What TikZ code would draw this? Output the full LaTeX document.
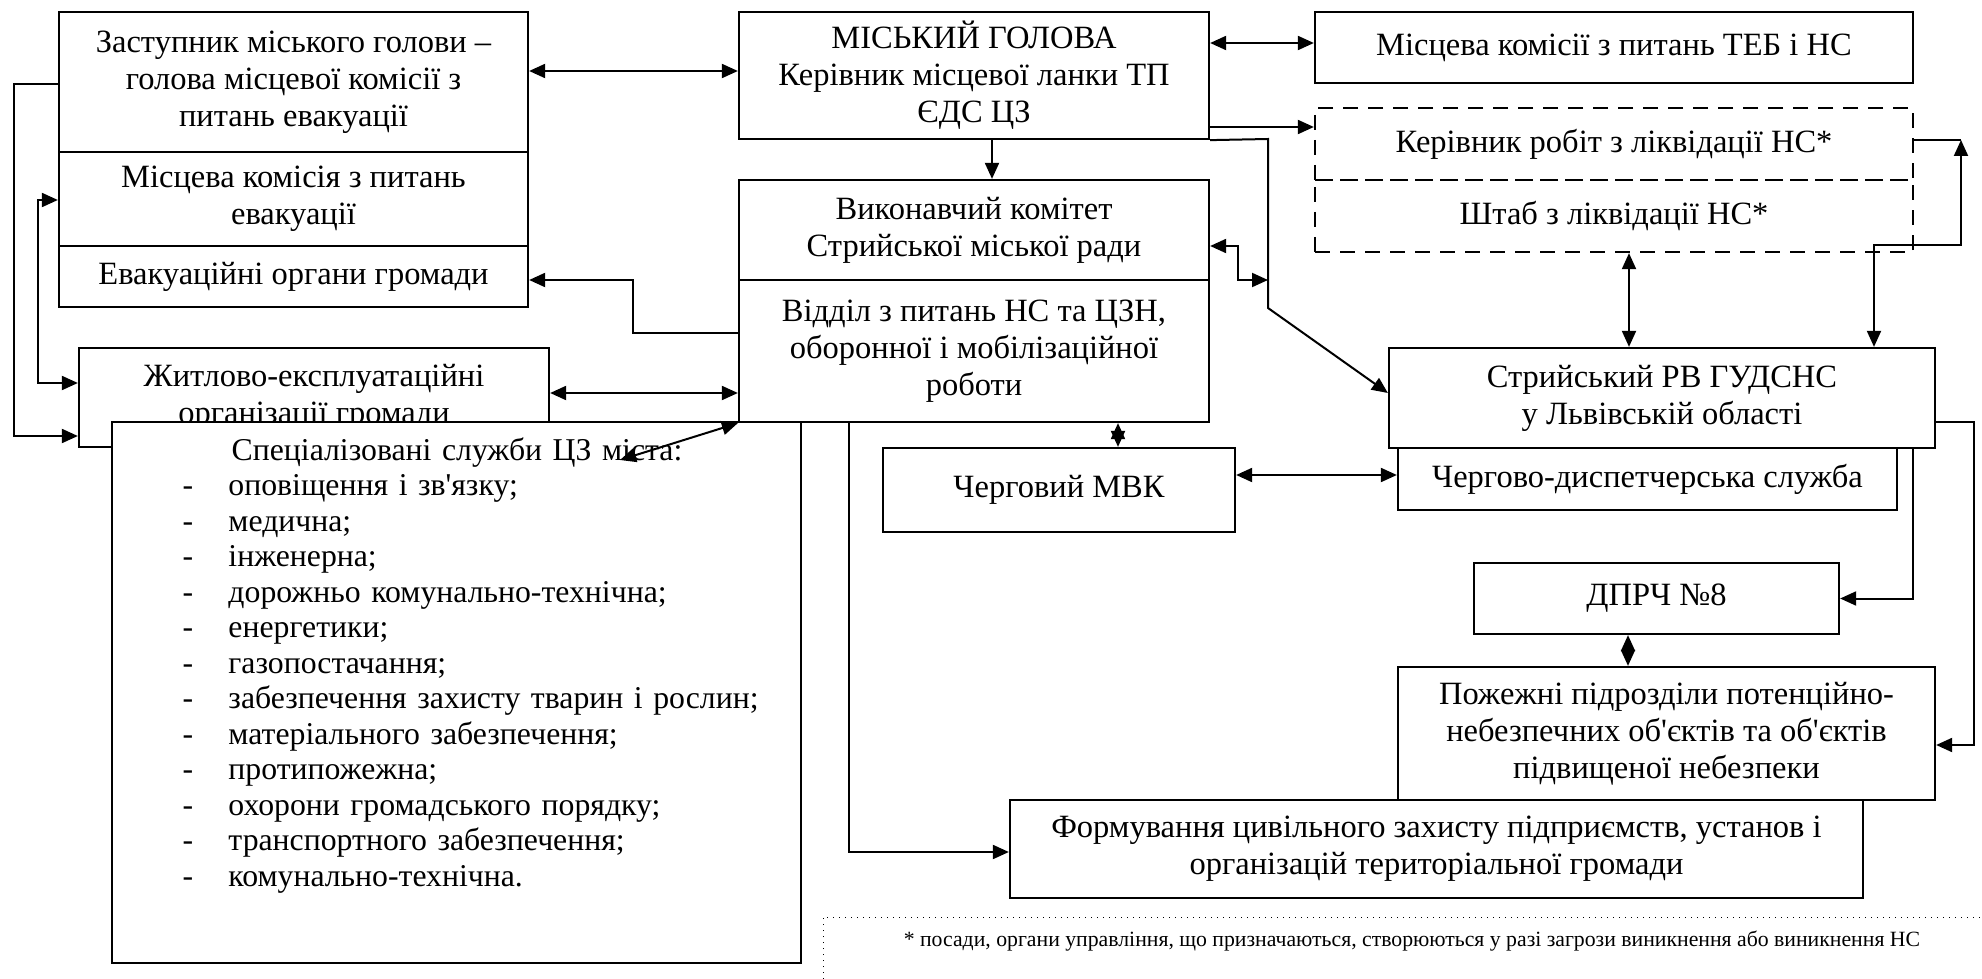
\documentclass[tikz,border=0pt]{standalone}
\usepackage{fontspec}
\setmainfont{Liberation Serif}
\usetikzlibrary{arrows.meta}
\newcommand{\boxfont}{\fontsize{13pt}{14.8pt}\selectfont}
\newcommand{\listfont}{\fontsize{12.7pt}{14.2pt}\selectfont}
\newcommand{\notefont}{\fontsize{8.7pt}{10pt}\selectfont}
\newcommand{\sluzhba}[1]{\par\noindent\hspace*{28pt}\makebox[18.4pt][l]{-}#1}
\tikzstyle{box} = [rectangle, draw=black, line width=0.9pt, align=center, inner sep=1pt, font=\boxfont]
\tikzstyle{dashbox} = [box, dash pattern=on 6pt off 4pt]
\tikzstyle{line} = [line width=0.8pt]
\tikzstyle{arrow} = [line, ->, >={Triangle[length=6.4pt,width=5.6pt]}]
\tikzstyle{darrow} = [line, <->, >={Triangle[length=6.4pt,width=5.6pt]}]

\begin{document}
\begin{tikzpicture}[x=0.4pt, y=-0.4pt]
    \useasboundingbox (0,0) rectangle (1982,979);

    %left column
    \node (zast) [box, minimum width=187.6pt, minimum height=56pt] at (293.5,82) {Заступник міського голови --\\голова місцевої комісії з\\питань евакуації};
    \node (misckom) [box, minimum width=187.6pt, minimum height=37.6pt] at (293.5,199) {Місцева комісія з питань\\евакуації};
    \node (evak) [box, minimum width=187.6pt, minimum height=24.4pt] at (293.5,276.5) {Евакуаційні органи громади};
    \node (zhytlo) [box, minimum width=188pt, minimum height=39.6pt] at (314,397.5) {Житлово-експлуатаційні\\організації громади};
    \node (spec) [box, fill=white, minimum width=275.6pt, minimum height=216.4pt] at (456.5,692.5) {};
    \node (speclist) [anchor=north west, text width=275.6pt, inner sep=0pt, font=\listfont] at (112,437) {\centering Спеціалізовані служби ЦЗ міста:\par\raggedright
        \sluzhba{оповіщення і зв\textquotesingle язку;}
        \sluzhba{медична;}
        \sluzhba{інженерна;}
        \sluzhba{дорожньо комунально-технічна;}
        \sluzhba{енергетики;}
        \sluzhba{газопостачання;}
        \sluzhba{забезпечення захисту тварин і рослин;}
        \sluzhba{матеріального забезпечення;}
        \sluzhba{протипожежна;}
        \sluzhba{охорони громадського порядку;}
        \sluzhba{транспортного забезпечення;}
        \sluzhba{комунально-технічна.}};

    %middle column
    \node (mayor) [box, minimum width=188pt, minimum height=50.8pt] at (974,75.5) {МІСЬКИЙ ГОЛОВА\\Керівник місцевої ланки ТП\\ЄДС ЦЗ};
    \node (vykon) [box, minimum width=188pt, minimum height=40pt] at (974,230) {Виконавчий комітет\\Стрийської міської ради};
    \node (viddil) [box, minimum width=188pt, minimum height=56.8pt] at (974,351) {Відділ з питань НС та ЦЗН,\\оборонної і мобілізаційної\\роботи};
    \node (mvk) [box, minimum width=140.8pt, minimum height=33.6pt] at (1059,490) {Черговий МВК};
    \node (form) [box, minimum width=341.2pt, minimum height=39.2pt] at (1436.5,849) {Формування цивільного захисту підприємств, установ і\\організацій територіальної громади};

    %right column
    \node (teb) [box, minimum width=239.2pt, minimum height=28.4pt] at (1614,47.5) {Місцева комісії з питань ТЕБ і НС};
    \node (kerivnyk) [dashbox, minimum width=239.2pt, minimum height=28.8pt] at (1614,144) {Керівник робіт з ліквідації НС*};
    \node (shtab) [dashbox, minimum width=239.2pt, minimum height=28.8pt] at (1614,216) {Штаб з ліквідації НС*};
    \node (stryi) [box, minimum width=218.4pt, minimum height=40pt] at (1662,398) {Стрийський РВ ГУДСНС\\у Львівській області};
    \node (chds) [box, minimum width=199.6pt, minimum height=24.8pt] at (1647.5,479) {Чергово-диспетчерська служба};
    \node (dprch) [box, minimum width=146pt, minimum height=28.4pt] at (1656.5,598.5) {ДПРЧ №8};
    \node (pozh) [box, minimum width=214.8pt, minimum height=53.2pt] at (1666.5,733.5) {Пожежні підрозділи потенційно-\\небезпечних об\textquotesingle єктів та об\textquotesingle єктів\\підвищеної небезпеки};

    %footnote
    \node (note) [font=\notefont, inner sep=0pt] at (1412,941) {* посади, органи управління, що призначаються, створюються у разі загрози виникнення або виникнення НС};
    \draw [dotted] (823,979) -- (823,917) -- (1982,917);

    %points on the lines
    \coordinate (jn) at (1268,280);
    \coordinate (specend) at (620,460);
    \coordinate (kcorner) at (1961,140);

    %arrows
    \draw [darrow] (zast.east |- 0,71) -- (mayor.west |- 0,71);
    \draw [darrow] (mayor.east |- 0,43) -- (teb.west |- 0,43);
    \draw [arrow] (mayor.east |- 0,127) -- (kerivnyk.west |- 0,127);
    \draw [arrow] (mayor.south -| 992,0) -- (vykon.north -| 992,0);
    \draw [arrow] (mayor.south east) -- (1268,139) -- (1268,308) -- (stryi.west |- 0,393);
    \draw [darrow] (vykon.east |- 0,246) -| (1238,280) -- (jn);
    \draw [arrow] (viddil.west |- 0,333) -| (632.5,280) -- (evak.east |- 0,280);
    \draw [darrow] (zhytlo.east |- 0,393) -- (viddil.west |- 0,393);
    \draw [darrow] (specend) -- (viddil.south west);
    \draw [arrow] (zast.west |- 0,84) -| (14,436) -- (zhytlo.west |- 0,436);
    \draw [darrow] (misckom.west |- 0,200) -| (38,383) -- (zhytlo.west |- 0,383);
    \draw [arrow] (viddil.south -| 849,0) |- (form.west |- 0,852);
    \draw [darrow] (viddil.south -| 1118,0) -- (mvk.north -| 1118,0);
    \draw [darrow] (mvk.east |- 0,475) -- (chds.west |- 0,475);
    \draw [darrow] (shtab.south -| 1629,0) -- (stryi.north -| 1629,0);
    \draw [line] (kerivnyk.east |- kcorner) -- (kcorner);
    \draw [darrow] (stryi.north -| 1874,0) |- (1961,245) -- (kcorner);
    \draw [arrow] (stryi.south -| 1913,0) |- (dprch.east);
    \draw [arrow] (stryi.east |- 0,422) -| (1974,745) -- (pozh.east |- 0,745);
    \draw [darrow] (dprch.south -| 1628,0) -- (pozh.north -| 1628,0);
\end{tikzpicture}
\end{document}
